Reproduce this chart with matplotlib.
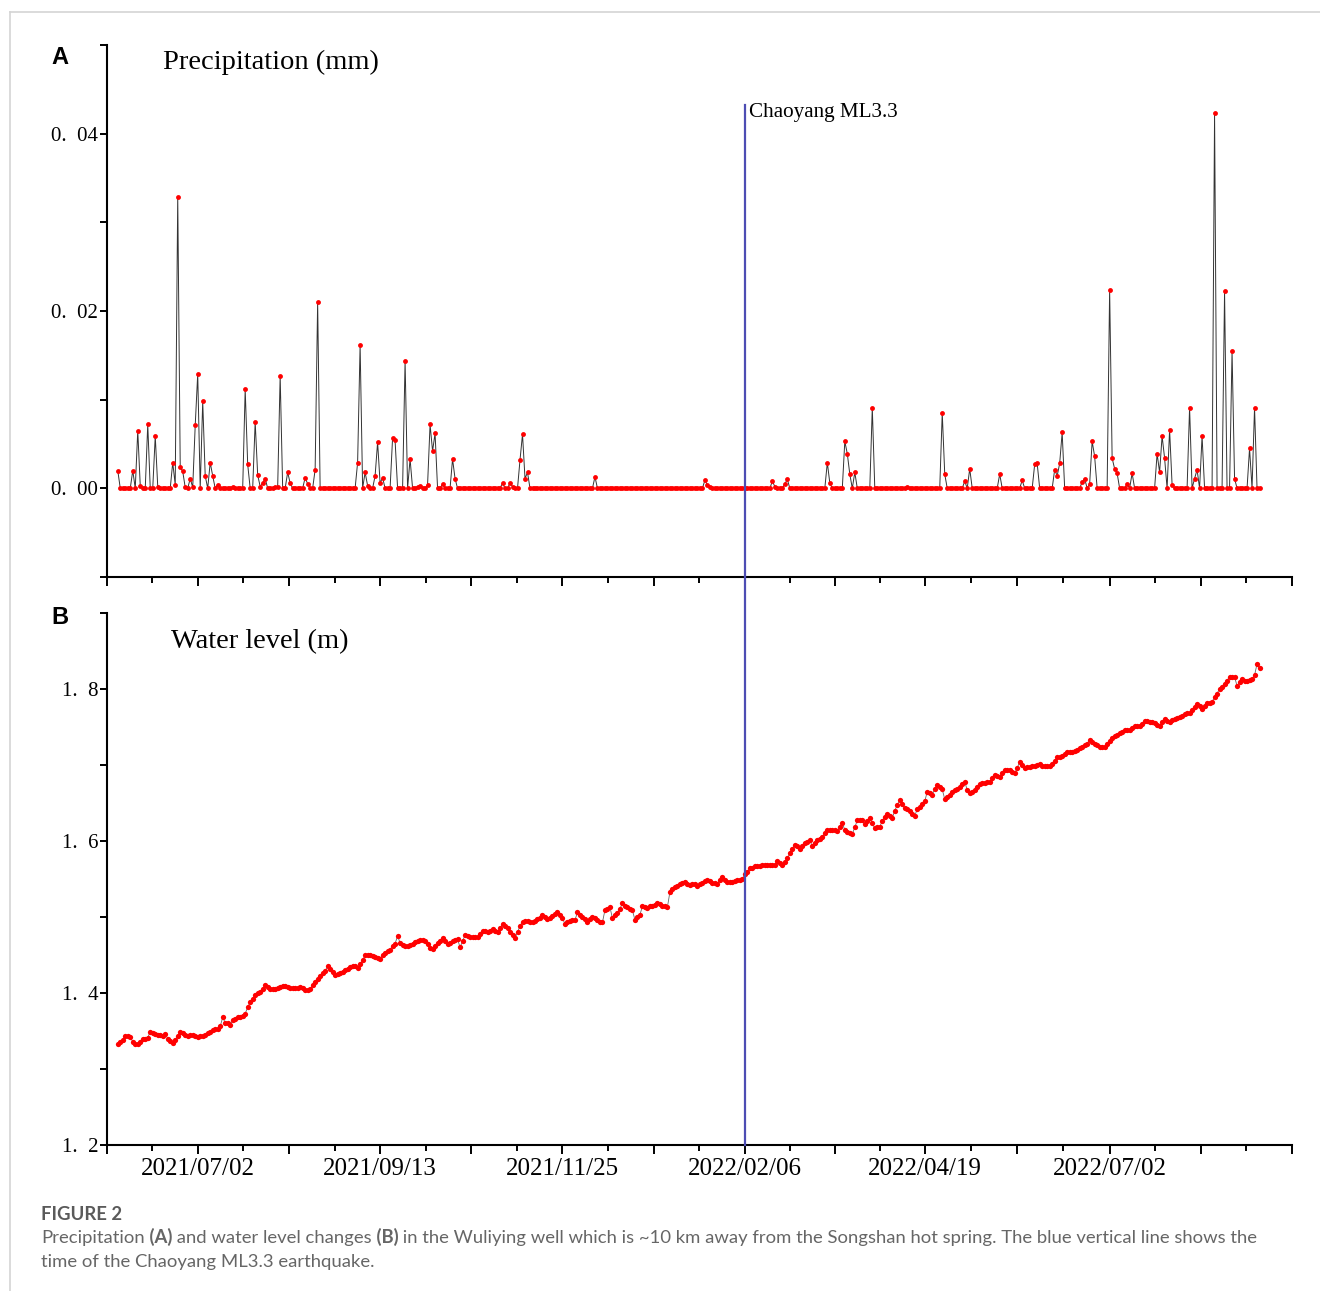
import numpy as np
import matplotlib
matplotlib.use("Agg")
import matplotlib.pyplot as plt
import matplotlib.dates as mdates
from matplotlib.ticker import FixedLocator, FixedFormatter, MultipleLocator, FuncFormatter
from matplotlib.lines import Line2D

# daily observations start here
first_day = "2021-05-31"
quake_day = "2022-02-06"
tick_dates = ["2021-07-02", "2021-09-13", "2021-11-25", "2022-02-06", "2022-04-19", "2022-07-02"]
tick_labels = ["2021/07/02", "2021/09/13", "2021/11/25", "2022/02/06", "2022/04/19", "2022/07/02"]

# precipitation: day index (from first_day) and value for days with rain, zero otherwise
rain_idx = [0, 6, 8, 9, 12, 15, 16, 22, 23, 24, 25, 26, 27, 29, 30, 31, 32, 34, 35, 37, 38, 40, 46,
            51, 52, 55, 56, 57, 58, 59, 63, 64, 65, 68, 69, 75, 76, 79, 80, 96, 97, 99, 100, 103, 104,
            105, 106, 110, 111, 115, 117, 120, 121, 124, 125, 126, 127, 130, 134, 135, 154, 157, 158,
            161, 162, 163, 164, 191, 235, 236, 237, 262, 263, 267, 268, 284, 285, 291, 292, 293, 295,
            302, 316, 330, 331, 339, 341, 353, 362, 367, 368, 375, 376, 377, 378, 386, 387, 389, 390,
            391, 397, 398, 399, 400, 404, 406, 416, 417, 418, 419, 421, 422, 429, 431, 432, 434, 439,
            443, 446, 447, 453, 455]
rain_val = [0.0020, 0.0020, 0.0065, 0.0003, 0.0072, 0.0059, 0.0002, 0.0029, 0.0004, 0.0329, 0.0024,
            0.0019, 0.0001, 0.0011, 0.0001, 0.0071, 0.0129, 0.0098, 0.0014, 0.0029, 0.0014, 0.0004,
            0.0002, 0.0112, 0.0027, 0.0075, 0.0015, 0.0002, 0.0006, 0.0011, 0.0001, 0.0001, 0.0127,
            0.0018, 0.0006, 0.0012, 0.0005, 0.0021, 0.0210, 0.0029, 0.0162, 0.0018, 0.0003, 0.0014,
            0.0052, 0.0006, 0.0012, 0.0057, 0.0054, 0.0144, 0.0033, 0.0002, 0.0003, 0.0004, 0.0072,
            0.0042, 0.0062, 0.0005, 0.0033, 0.0011, 0.0006, 0.0006, 0.0002, 0.0032, 0.0061, 0.0011,
            0.0018, 0.0013, 0.0009, 0.0004, 0.0002, 0.0008, 0.0002, 0.0005, 0.0010, 0.0029, 0.0006,
            0.0053, 0.0039, 0.0016, 0.0018, 0.0091, 0.0002, 0.0085, 0.0016, 0.0008, 0.0022, 0.0016,
            0.0009, 0.0027, 0.0028, 0.0021, 0.0014, 0.0028, 0.0063, 0.0007, 0.0011, 0.0005, 0.0053,
            0.0036, 0.0224, 0.0034, 0.0022, 0.0017, 0.0005, 0.0017, 0.0039, 0.0018, 0.0059, 0.0034,
            0.0066, 0.0004, 0.0091, 0.0011, 0.0021, 0.0059, 0.0423, 0.0222, 0.0155, 0.0011, 0.0045,
            0.0091]

# water level (m), one value per day
level = [
    1.333, 1.336, 1.338, 1.344, 1.344, 1.342, 1.336, 1.333, 1.333, 1.336,
    1.340, 1.340, 1.341, 1.349, 1.347, 1.346, 1.345, 1.345, 1.344, 1.346,
    1.340, 1.337, 1.334, 1.338, 1.344, 1.349, 1.347, 1.345, 1.344, 1.345,
    1.345, 1.344, 1.342, 1.343, 1.344, 1.345, 1.347, 1.349, 1.351, 1.352,
    1.352, 1.356, 1.368, 1.361, 1.360, 1.358, 1.364, 1.366, 1.368, 1.369,
    1.370, 1.373, 1.381, 1.388, 1.392, 1.398, 1.400, 1.401, 1.405, 1.410,
    1.408, 1.405, 1.405, 1.405, 1.406, 1.408, 1.409, 1.409, 1.408, 1.407,
    1.407, 1.406, 1.407, 1.408, 1.406, 1.404, 1.404, 1.405, 1.410, 1.414,
    1.418, 1.422, 1.426, 1.429, 1.435, 1.432, 1.428, 1.424, 1.425, 1.426,
    1.428, 1.430, 1.432, 1.434, 1.436, 1.435, 1.433, 1.438, 1.443, 1.450,
    1.450, 1.450, 1.449, 1.448, 1.446, 1.445, 1.450, 1.453, 1.455, 1.457,
    1.462, 1.465, 1.475, 1.466, 1.463, 1.462, 1.462, 1.463, 1.465, 1.467,
    1.469, 1.470, 1.470, 1.468, 1.464, 1.459, 1.458, 1.462, 1.466, 1.469,
    1.472, 1.468, 1.465, 1.466, 1.468, 1.470, 1.471, 1.460, 1.468, 1.476,
    1.475, 1.474, 1.473, 1.473, 1.473, 1.478, 1.482, 1.481, 1.480, 1.482,
    1.484, 1.482, 1.480, 1.485, 1.491, 1.488, 1.485, 1.480, 1.476, 1.472,
    1.480, 1.488, 1.494, 1.495, 1.495, 1.494, 1.494, 1.495, 1.497, 1.499,
    1.502, 1.500, 1.497, 1.499, 1.501, 1.504, 1.507, 1.503, 1.498, 1.491,
    1.493, 1.495, 1.496, 1.496, 1.506, 1.503, 1.500, 1.497, 1.494, 1.497,
    1.500, 1.498, 1.496, 1.494, 1.493, 1.509, 1.511, 1.513, 1.498, 1.502,
    1.505, 1.511, 1.518, 1.515, 1.513, 1.511, 1.509, 1.496, 1.500, 1.503,
    1.514, 1.513, 1.512, 1.514, 1.515, 1.516, 1.518, 1.517, 1.515, 1.514,
    1.513, 1.533, 1.537, 1.540, 1.541, 1.543, 1.545, 1.546, 1.543, 1.542,
    1.544, 1.543, 1.541, 1.543, 1.545, 1.547, 1.548, 1.547, 1.545, 1.545,
    1.544, 1.548, 1.552, 1.549, 1.546, 1.546, 1.546, 1.547, 1.548, 1.549,
    1.550, 1.556, 1.559, 1.564, 1.565, 1.567, 1.567, 1.567, 1.568, 1.568,
    1.568, 1.569, 1.569, 1.568, 1.574, 1.571, 1.568, 1.572, 1.577, 1.584,
    1.590, 1.595, 1.593, 1.590, 1.594, 1.597, 1.599, 1.601, 1.593, 1.597,
    1.601, 1.603, 1.605, 1.610, 1.614, 1.615, 1.615, 1.614, 1.613, 1.618,
    1.623, 1.615, 1.612, 1.610, 1.609, 1.618, 1.627, 1.627, 1.627, 1.622,
    1.626, 1.630, 1.623, 1.617, 1.618, 1.619, 1.626, 1.632, 1.636, 1.633,
    1.630, 1.640, 1.647, 1.654, 1.648, 1.643, 1.642, 1.640, 1.636, 1.633,
    1.642, 1.645, 1.649, 1.652, 1.665, 1.663, 1.661, 1.668, 1.674, 1.671,
    1.668, 1.655, 1.658, 1.661, 1.664, 1.667, 1.669, 1.671, 1.675, 1.678,
    1.667, 1.663, 1.665, 1.667, 1.671, 1.675, 1.676, 1.676, 1.677, 1.678,
    1.683, 1.687, 1.686, 1.684, 1.690, 1.694, 1.694, 1.694, 1.691, 1.689,
    1.696, 1.704, 1.700, 1.696, 1.697, 1.697, 1.698, 1.698, 1.700, 1.701,
    1.699, 1.698, 1.698, 1.699, 1.701, 1.705, 1.710, 1.711, 1.712, 1.715,
    1.717, 1.717, 1.717, 1.718, 1.720, 1.722, 1.724, 1.726, 1.728, 1.733,
    1.730, 1.728, 1.726, 1.724, 1.724, 1.724, 1.728, 1.732, 1.735, 1.738,
    1.740, 1.742, 1.744, 1.746, 1.746, 1.746, 1.748, 1.751, 1.751, 1.751,
    1.754, 1.758, 1.758, 1.757, 1.756, 1.755, 1.753, 1.751, 1.756, 1.760,
    1.758, 1.757, 1.759, 1.760, 1.762, 1.763, 1.765, 1.767, 1.768, 1.768,
    1.772, 1.776, 1.780, 1.777, 1.774, 1.778, 1.781, 1.782, 1.783, 1.789,
    1.794, 1.800, 1.803, 1.807, 1.811, 1.816, 1.816, 1.816, 1.804, 1.809,
    1.813, 1.811, 1.810, 1.812, 1.813, 1.818, 1.833, 1.827,
]

n = len(level)
days = mdates.datestr2num(first_day) + np.arange(n)
rain = np.zeros(n)
rain[rain_idx] = rain_val
quake = mdates.datestr2num(quake_day)

# ticks: labelled dates, a major tick halfway between, minor ticks in between those
lab = mdates.datestr2num(tick_dates)
major = [lab[0] - 36.5]
for a, b in zip(lab[:-1], lab[1:]):
    major += [a, (a + b) / 2]
major += [lab[-1], lab[-1] + 36.5, lab[-1] + 73]
major = np.array(major)
minor = (major[:-1] + major[1:]) / 2
major_txt = [tick_labels[list(lab).index(m)] if m in lab else "" for m in major]

serif = "Liberation Serif"
fig = plt.figure(figsize=(13.2, 12.91), dpi=100)

# light page frame
fig.add_artist(Line2D([10 / 1320, 1], [1 - 12 / 1291] * 2, color="#d4d4d4", lw=1.2))
fig.add_artist(Line2D([10 / 1320] * 2, [0, 1 - 12 / 1291], color="#d4d4d4", lw=1.2))

axA = fig.add_axes([0.0807, 0.5531, 0.8981, 0.4120])
axB = fig.add_axes([0.0807, 0.1131, 0.8981, 0.4121])

axA.plot(days, rain, "-", color="#333333", lw=0.7, zorder=2)
axA.plot(days, rain, "o", color="red", ms=3.5, mew=0, zorder=3)
axB.plot(days, level, "-", color="#666666", lw=0.6, zorder=2)
axB.plot(days, level, "o", color="red", ms=3.8, mew=0, zorder=3)

axA.set_ylim(-0.01, 0.05)
axB.set_ylim(1.2, 1.9)
axA.yaxis.set_major_locator(MultipleLocator(0.02))
axA.yaxis.set_minor_locator(MultipleLocator(0.01))
axB.yaxis.set_major_locator(MultipleLocator(0.2))
axB.yaxis.set_minor_locator(MultipleLocator(0.1))
axA.yaxis.set_major_formatter(FuncFormatter(lambda v, p: "" if v < -0.001 else ("%.2f" % abs(v)).replace(".", ".  ")))
axB.yaxis.set_major_formatter(FuncFormatter(lambda v, p: ("%.1f" % v).replace(".", ".  ")))

for ax in (axA, axB):
    ax.set_xlim(major[0], major[-1])
    ax.xaxis.set_major_locator(FixedLocator(major))
    ax.xaxis.set_minor_locator(FixedLocator(minor))
    ax.xaxis.set_major_formatter(FixedFormatter(major_txt))
    for s in ("top", "right"):
        ax.spines[s].set_visible(False)
    for s in ("left", "bottom"):
        ax.spines[s].set_linewidth(1.5)
    ax.tick_params(axis="x", which="major", direction="out", length=6.5, width=1.4, pad=3, labelsize=18)
    ax.tick_params(axis="x", which="minor", direction="out", length=4, width=1.4)
    ax.tick_params(axis="y", which="both", direction="out", length=5, width=1.4, pad=1, labelsize=15)
    for lbl in ax.get_xticklabels() + ax.get_yticklabels():
        lbl.set_fontfamily(serif)
axA.tick_params(axis="x", labelbottom=False)

# earthquake line runs through both panels
axA.axvline(quake, ymin=0, ymax=0.887, color="#4d4db3", lw=1.6, zorder=4)
axB.axvline(quake, ymin=0, ymax=1.068, color="#4d4db3", lw=1.6, zorder=4, clip_on=False)
axA.annotate("Chaoyang ML3.3", xy=(quake, 0.873), xycoords=("data", "axes fraction"),
             xytext=(3, 0), textcoords="offset points", va="center", ha="left",
             fontsize=15.2, family=serif)

axA.text(0.0477, 0.968, "Precipitation (mm)", transform=axA.transAxes, fontsize=20.5,
         family=serif, va="center", ha="left")
axB.text(0.0544, 0.946, "Water level (m)", transform=axB.transAxes, fontsize=20.5,
         family=serif, va="center", ha="left")

fig.text(60 / 1320, 1 - 57 / 1291, "A", fontsize=17, fontweight="bold", family="Liberation Sans",
         ha="center", va="center")
fig.text(60 / 1320, 1 - 618 / 1291, "B", fontsize=17, fontweight="bold", family="Liberation Sans",
         ha="center", va="center")

# caption
cap = "Lato"
cs = 13.3
fig.text(41 / 1320, 1 - 1214 / 1291, "FIGURE 2", fontsize=cs, family=cap, fontweight="bold",
         color="#5a5a5a", va="center", ha="left")
pieces = [("Precipitation", "normal"), (" (A)", "bold"), (" and water level changes", "normal"),
          (" (B)", "bold"),
          (" in the Wuliying well which is ~10 km away from the Songshan hot spring. The blue vertical line shows the",
           "normal")]
prev = fig.text(41 / 1320, 1 - 1238 / 1291, pieces[0][0], fontsize=cs, family=cap,
                color="#666666", va="center", ha="left")
for txt, w in pieces[1:]:
    prev = fig.axes[0].annotate(
        txt, xy=(1, 0), xycoords=prev, va="bottom", ha="left", fontsize=cs, family=cap,
        fontweight=w, color="#666666", annotation_clip=False)
fig.text(41 / 1320, 1 - 1262 / 1291, "time of the Chaoyang ML3.3 earthquake.", fontsize=cs,
         family=cap, color="#666666", va="center", ha="left")

fig.savefig("out.png", dpi=100)
